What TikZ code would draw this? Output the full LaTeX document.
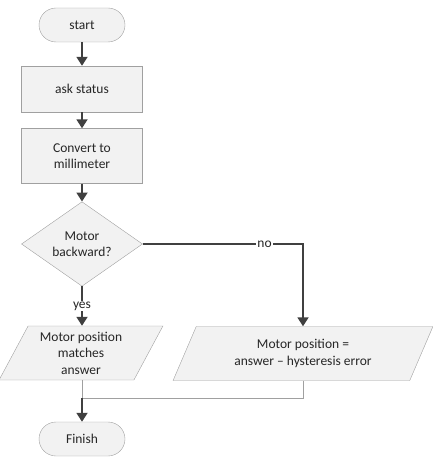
\documentclass[tikz,border=0pt]{standalone}
\usepackage{fontspec}
\setmainfont{Carlito}
\usepackage{xcolor}
\usetikzlibrary{shapes.geometric, arrows.meta}
\definecolor{boxfill}{HTML}{F2F2F2}
\definecolor{boxline}{HTML}{A0A0A0}
\definecolor{arrowgray}{HTML}{404040}
\definecolor{textgray}{HTML}{262626}
\tikzset{
  terminal/.style={draw=boxline, fill=boxfill, rounded corners=17pt, minimum width=86pt, minimum height=34pt, inner sep=0pt, text=textgray},
  process/.style={draw=boxline, fill=boxfill, minimum width=121pt, align=center, inner sep=0pt, text=textgray},
  decision/.style={diamond, draw=boxline, fill=boxfill, minimum width=121pt, minimum height=72pt, inner sep=0pt, align=center, text=textgray},
  io/.style={trapezium, trapezium left angle=62, trapezium right angle=118, trapezium stretches=true, draw=boxline, fill=boxfill, align=center, inner sep=0pt, minimum height=54pt, text=textgray},
  flow/.style={draw=arrowgray, line width=1.8pt, -{Triangle[width=11pt,length=9pt]}},
  mergeline/.style={draw=boxline, line width=0.9pt},
  lbl/.style={fill=white, inner sep=1pt, text=textgray}
}

\begin{document}
\begin{tikzpicture}[x=1pt, y=-1pt, font=\fontsize{13.5}{16.5}\selectfont]
    \useasboundingbox (0,0) rectangle (432,457);
    % Blocchi
    \node[terminal] (start) at (82,25) {start};
    \node[process, minimum height=46pt] (ask) at (82,89) {ask status};
    \node[process, minimum height=55pt] (convert) at (82,156) {Convert to\\millimeter};
    \node[decision] (backward) at (82,244) {Motor\\backward?};
    \node[io, minimum width=164pt] (matches) at (81,353) {Motor position\\matches\\answer};
    \node[io, minimum width=260pt] (hysteresis) at (303,353.5) {Motor position =\\answer -- hysteresis error};
    \node[terminal] (finish) at (82,439) {Finish};
    \coordinate (merge) at (82,398);

    % Frecce
    \draw[flow] (start) -- (ask);
    \draw[flow] (ask) -- (convert);
    \draw[flow] (convert) -- (backward);
    \draw[flow] (backward.south) -- node[lbl]{yes} (backward.south |- matches.north);
    \draw[flow] (backward.east) -| node[lbl, pos=0.38]{no} (hysteresis.north);

    % Ricongiungimento
    \draw[mergeline] (matches.south -| merge) -- (merge);
    \draw[mergeline] (hysteresis.south) |- (merge);
    \draw[flow] (merge) -- (finish);
\end{tikzpicture}
\end{document}
